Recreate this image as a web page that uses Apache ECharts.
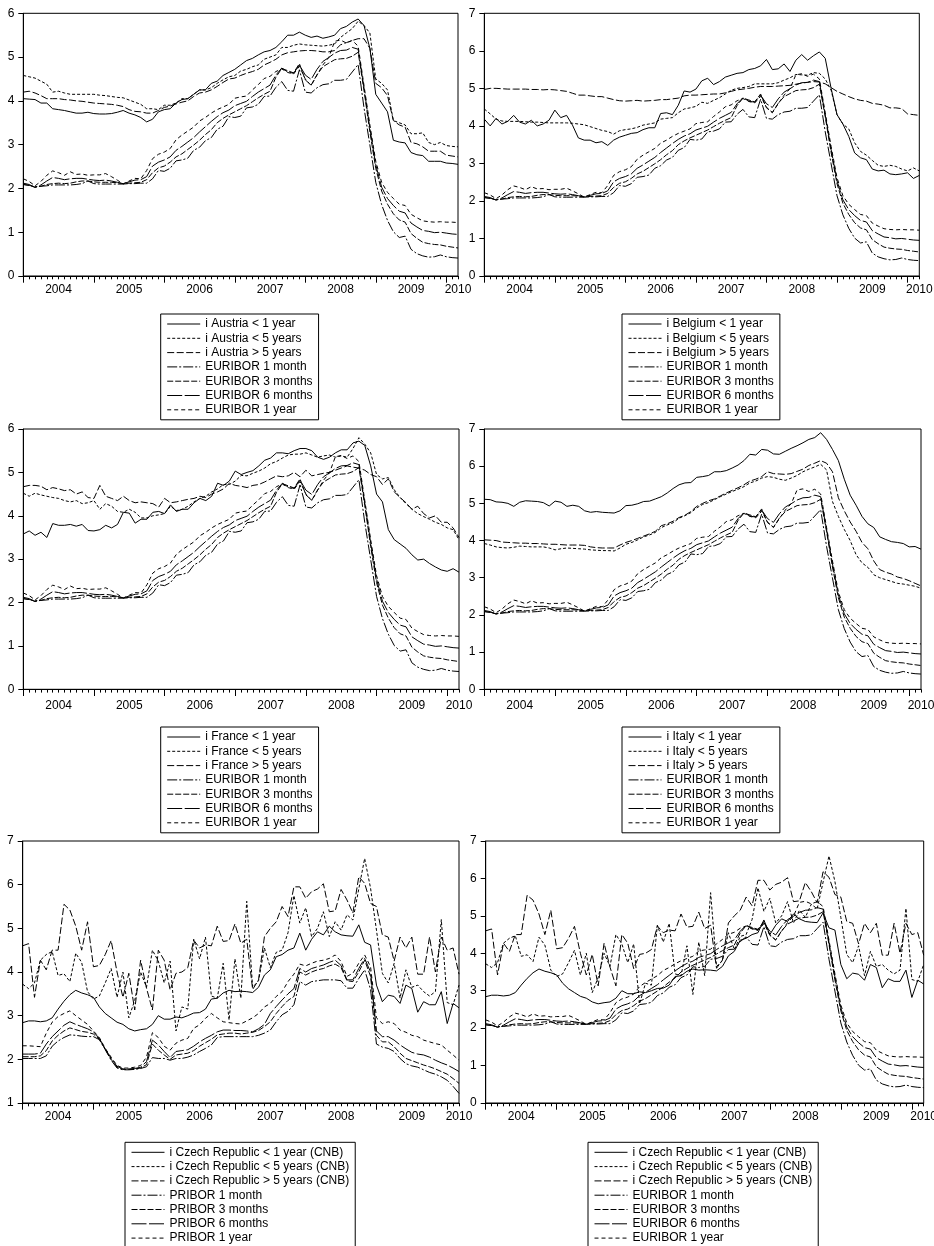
<!DOCTYPE html>
<html><head><meta charset="utf-8">
<script src="https://cdn.jsdelivr.net/npm/echarts@6/dist/echarts.min.js"></script>
<style>html,body{margin:0;padding:0;background:#fff}#c{width:934px;height:1246px}</style>
</head><body><div id="c"></div>
<script>
// ---------- categories ----------
const years = ['2004','2005','2006','2007','2008','2009','2010'];
const months = [];
years.forEach(function (y, k) { var n = (k === 6) ? 3 : 12; for (var m = 1; m <= n; m++) months.push(y + '-' + (m < 10 ? '0' : '') + m); });

// ---------- EURIBOR ----------
const euribor1m = [2.09,2.07,2.04,2.05,2.06,2.08,2.08,2.08,2.08,2.09,2.11,2.17,
 2.11,2.10,2.10,2.10,2.10,2.10,2.11,2.11,2.12,2.12,2.22,2.41,
 2.39,2.46,2.63,2.65,2.69,2.87,2.94,3.09,3.16,3.35,3.42,3.64,
 3.62,3.65,3.84,3.86,3.92,4.10,4.11,4.31,4.44,4.24,4.22,4.71,
 4.20,4.18,4.30,4.37,4.39,4.47,4.47,4.49,4.66,4.83,3.84,2.99,
 2.14,1.63,1.27,1.01,0.88,0.91,0.61,0.51,0.46,0.43,0.44,0.48,
 0.44,0.42,0.41];
const euribor3m = [2.09,2.07,2.03,2.05,2.09,2.11,2.12,2.11,2.12,2.15,2.17,2.17,
 2.15,2.14,2.14,2.14,2.13,2.11,2.12,2.13,2.14,2.20,2.36,2.47,
 2.51,2.60,2.72,2.79,2.89,2.99,3.10,3.23,3.34,3.50,3.60,3.68,
 3.75,3.82,3.89,3.98,4.07,4.15,4.22,4.54,4.74,4.69,4.64,4.85,
 4.48,4.36,4.60,4.78,4.86,4.94,4.96,4.97,5.02,5.11,4.24,3.29,
 2.46,1.94,1.64,1.42,1.28,1.23,0.97,0.86,0.77,0.74,0.72,0.71,
 0.68,0.66,0.64];
const euribor6m = [2.12,2.09,2.02,2.08,2.17,2.25,2.23,2.20,2.22,2.23,2.23,2.21,
 2.19,2.18,2.19,2.17,2.14,2.11,2.15,2.19,2.20,2.27,2.51,2.60,
 2.65,2.72,2.87,2.96,3.06,3.16,3.29,3.41,3.53,3.64,3.73,3.79,
 3.89,3.94,3.99,4.10,4.20,4.28,4.36,4.59,4.75,4.66,4.63,4.82,
 4.59,4.49,4.72,4.90,4.99,5.09,5.15,5.16,5.22,5.18,4.29,3.37,
 2.54,2.03,1.77,1.61,1.48,1.44,1.21,1.12,1.04,1.02,0.99,1.00,
 0.98,0.96,0.95];
const euribor1y = [2.22,2.16,2.06,2.16,2.30,2.40,2.36,2.30,2.38,2.32,2.33,2.30,
 2.31,2.31,2.34,2.27,2.19,2.10,2.17,2.23,2.22,2.41,2.68,2.78,
 2.83,2.91,3.11,3.22,3.31,3.40,3.54,3.62,3.72,3.80,3.86,3.92,
 4.06,4.09,4.11,4.25,4.37,4.51,4.56,4.67,4.73,4.65,4.61,4.79,
 4.50,4.35,4.59,4.82,4.99,5.36,5.39,5.32,5.38,5.25,4.35,3.45,
 2.62,2.14,1.91,1.77,1.64,1.61,1.41,1.33,1.26,1.24,1.23,1.24,
 1.23,1.23,1.22];

// ---------- Austria ----------
const austriaLt1 = [4.05,4.04,4.03,3.95,3.95,3.82,3.80,3.78,3.75,3.72,3.72,3.74,
 3.71,3.70,3.70,3.71,3.74,3.78,3.72,3.68,3.62,3.52,3.58,3.75,
 3.80,3.82,3.95,4.03,4.05,4.15,4.25,4.25,4.40,4.45,4.58,4.65,
 4.72,4.82,4.92,4.97,5.05,5.12,5.15,5.22,5.35,5.50,5.50,5.57,
 5.50,5.45,5.48,5.43,5.46,5.50,5.65,5.70,5.80,5.87,5.72,5.20,
 4.15,3.95,3.75,3.10,3.06,3.04,2.82,2.77,2.75,2.62,2.62,2.62,
 2.58,2.57,2.55];
const austriaLt5 = [4.58,4.55,4.52,4.45,4.38,4.20,4.22,4.18,4.15,4.15,4.15,4.15,
 4.15,4.13,4.12,4.10,4.08,4.07,4.02,3.97,3.92,3.82,3.82,3.80,
 3.90,3.90,3.95,4.05,4.05,4.15,4.25,4.25,4.30,4.40,4.48,4.55,
 4.58,4.68,4.72,4.78,4.82,4.95,5.00,5.05,5.22,5.22,5.27,5.30,
 5.28,5.27,5.26,5.25,5.27,5.30,5.45,5.55,5.65,5.82,5.72,5.55,
 4.50,4.40,4.25,3.55,3.50,3.45,3.25,3.25,3.27,3.05,3.00,3.05,
 2.98,2.96,2.95];
const austriaGt5 = [4.20,4.22,4.18,4.12,4.05,4.05,4.05,4.03,4.02,4.00,3.99,3.97,
 3.95,3.94,3.93,3.92,3.90,3.87,3.80,3.76,3.75,3.72,3.72,3.78,
 3.85,3.88,3.93,3.97,4.00,4.10,4.18,4.20,4.25,4.33,4.42,4.50,
 4.52,4.58,4.63,4.67,4.72,4.82,4.88,4.95,5.05,5.10,5.12,5.14,
 5.15,5.15,5.14,5.12,5.12,5.15,5.28,5.33,5.38,5.42,5.42,5.20,
 4.40,4.30,4.12,3.55,3.45,3.40,3.05,3.02,2.95,2.85,2.85,2.85,
 2.76,2.74,2.72];

// ---------- Belgium ----------
const belgiumLt1 = [4.18,4.00,4.20,4.05,4.12,4.28,4.10,4.05,4.15,4.00,4.05,4.15,
 4.42,4.22,4.28,4.02,3.68,3.62,3.62,3.55,3.58,3.48,3.62,3.70,
 3.75,3.80,3.82,3.90,3.95,3.95,4.33,4.35,4.30,4.55,4.93,4.90,
 4.98,5.20,5.27,5.10,5.18,5.30,5.35,5.40,5.42,5.50,5.53,5.60,
 5.77,5.50,5.52,5.65,5.45,5.75,5.90,5.75,5.87,5.97,5.80,5.00,
 4.30,4.05,3.72,3.28,3.15,3.10,2.85,2.80,2.82,2.72,2.70,2.72,
 2.75,2.60,2.68];
const belgiumLt5 = [4.45,4.32,4.18,4.13,4.12,4.12,4.12,4.11,4.10,4.10,4.09,4.08,
 4.08,4.08,4.08,4.07,4.05,4.03,3.98,3.93,3.88,3.85,3.78,3.87,
 3.90,3.92,3.96,4.02,4.05,4.08,4.18,4.20,4.22,4.35,4.45,4.48,
 4.52,4.63,4.60,4.68,4.75,4.85,4.95,5.00,5.02,5.05,5.12,5.12,
 5.12,5.12,5.15,5.22,5.28,5.37,5.36,5.35,5.42,5.40,5.25,4.95,
 4.30,4.05,3.92,3.55,3.32,3.22,3.08,2.95,2.92,2.95,2.92,2.85,
 2.80,2.88,2.80];
const belgiumGt5 = [4.97,5.00,5.00,4.99,4.98,4.98,4.98,4.98,4.97,4.97,4.96,4.97,
 4.96,4.94,4.92,4.87,4.82,4.82,4.80,4.78,4.78,4.74,4.70,4.67,
 4.66,4.67,4.68,4.66,4.67,4.68,4.70,4.70,4.72,4.74,4.80,4.82,
 4.82,4.83,4.84,4.85,4.85,4.88,4.92,4.96,4.98,5.00,5.03,5.05,
 5.05,5.05,5.06,5.07,5.08,5.11,5.14,5.16,5.18,5.17,5.12,5.02,
 4.92,4.85,4.78,4.72,4.68,4.66,4.60,4.58,4.55,4.48,4.48,4.46,
 4.32,4.30,4.28];

// ---------- France ----------
const franceLt1 = [3.58,3.65,3.55,3.62,3.50,3.82,3.78,3.78,3.80,3.76,3.80,3.66,
 3.65,3.68,3.78,3.72,3.80,4.08,4.06,3.83,3.92,3.92,4.08,4.10,
 4.05,4.25,4.10,4.15,4.15,4.30,4.40,4.35,4.45,4.75,4.70,4.80,
 5.03,4.95,5.00,5.04,5.15,5.28,5.33,5.45,5.45,5.43,5.50,5.55,
 5.55,5.50,5.35,5.30,5.35,5.45,5.52,5.52,5.68,5.72,5.62,5.15,
 4.50,4.32,3.68,3.45,3.35,3.25,3.10,2.98,3.00,2.90,2.82,2.75,
 2.72,2.78,2.70];
const franceLt5 = [4.52,4.45,4.52,4.48,4.45,4.42,4.40,4.35,4.32,4.35,4.28,4.30,
 4.35,4.15,4.28,4.22,4.10,4.08,4.15,4.08,3.95,3.95,4.00,4.02,
 4.05,4.22,4.12,4.15,4.22,4.32,4.40,4.45,4.55,4.62,4.72,4.72,
 4.80,4.93,4.92,4.98,5.03,5.10,5.20,5.25,5.33,5.40,5.42,5.42,
 5.45,5.40,5.35,5.38,5.40,5.35,5.38,5.35,5.55,5.80,5.65,5.45,
 4.95,4.85,4.88,4.60,4.42,4.28,4.15,4.05,3.98,3.92,3.85,3.80,
 3.72,3.68,3.45];
const franceGt5 = [4.67,4.70,4.70,4.68,4.60,4.65,4.62,4.58,4.60,4.50,4.55,4.42,
 4.40,4.70,4.45,4.40,4.35,4.45,4.35,4.30,4.32,4.30,4.28,4.20,
 4.40,4.30,4.32,4.35,4.38,4.40,4.45,4.42,4.50,4.55,4.62,4.75,
 4.70,4.68,4.65,4.70,4.72,4.78,4.85,4.92,4.90,4.92,5.00,4.90,
 5.05,4.92,4.95,4.98,5.00,5.05,5.10,5.15,5.12,5.10,5.05,4.95,
 4.90,4.72,4.85,4.55,4.42,4.30,4.15,4.22,4.05,3.95,4.00,3.85,
 3.85,3.72,3.50];

// ---------- Italy ----------
const italyLt1 = [5.11,5.10,5.04,5.03,5.00,4.92,5.03,5.07,5.06,5.05,5.02,4.93,
 5.06,5.03,4.92,4.95,4.92,4.80,4.76,4.78,4.76,4.75,4.74,4.80,
 4.94,4.95,4.99,5.05,5.06,5.12,5.18,5.28,5.40,5.50,5.55,5.56,
 5.70,5.72,5.75,5.85,5.85,5.88,5.95,6.03,6.15,6.32,6.30,6.45,
 6.43,6.33,6.32,6.40,6.48,6.55,6.63,6.72,6.77,6.90,6.72,6.45,
 6.15,5.65,5.22,4.95,4.65,4.45,4.35,4.10,4.03,3.97,3.95,3.92,
 3.83,3.84,3.77];
const italyLt5 = [3.92,3.88,3.83,3.81,3.80,3.82,3.85,3.84,3.83,3.83,3.83,3.80,
 3.75,3.78,3.80,3.79,3.78,3.77,3.75,3.74,3.73,3.73,3.72,3.80,
 3.90,3.95,4.02,4.10,4.15,4.22,4.35,4.42,4.48,4.60,4.67,4.75,
 4.88,4.97,5.02,5.10,5.18,5.25,5.32,5.38,5.45,5.55,5.60,5.68,
 5.72,5.70,5.65,5.62,5.68,5.75,5.85,5.92,5.98,6.05,5.90,5.05,
 4.65,4.30,4.00,3.62,3.40,3.28,3.08,3.00,2.95,2.90,2.85,2.83,
 2.80,2.77,2.72];
const italyGt5 = [4.02,4.01,4.00,3.96,3.95,3.94,3.93,3.93,3.92,3.92,3.91,3.90,
 3.90,3.89,3.88,3.88,3.88,3.87,3.83,3.81,3.80,3.80,3.80,3.88,
 3.95,4.00,4.06,4.12,4.18,4.25,4.40,4.45,4.52,4.62,4.68,4.78,
 4.92,5.00,5.07,5.12,5.20,5.28,5.35,5.42,5.50,5.60,5.65,5.72,
 5.85,5.80,5.79,5.78,5.80,5.86,5.92,6.02,6.08,6.15,6.08,5.85,
 5.15,4.80,4.50,4.25,3.95,3.78,3.45,3.22,3.15,3.10,3.02,2.98,
 2.92,2.85,2.78];

// ---------- Czech Republic (CNB) ----------
const czechLt1 = [2.84,2.88,2.88,2.86,2.88,2.95,3.15,3.33,3.48,3.58,3.52,3.48,
 3.42,3.20,3.05,2.95,2.85,2.80,2.70,2.65,2.68,2.70,2.80,3.00,
 2.92,2.92,2.97,2.95,3.00,3.06,3.07,3.15,3.38,3.40,3.52,3.58,
 3.55,3.56,3.55,3.53,3.65,3.93,4.05,4.35,4.40,4.50,4.55,4.89,
 4.50,4.75,4.92,4.85,5.05,4.92,4.85,4.83,4.82,5.08,4.68,4.62,
 3.70,3.32,3.47,3.44,3.28,3.70,3.62,3.08,3.32,3.25,3.25,3.55,
 2.82,3.28,3.18];
const czechLt5 = [3.72,3.62,3.75,4.27,4.40,4.47,3.92,3.96,3.78,4.43,4.22,3.55,
 3.38,3.45,3.75,4.08,3.42,4.00,2.95,3.35,4.00,3.65,4.50,4.25,
 3.75,4.25,2.65,3.20,3.15,4.75,4.30,4.80,3.45,3.40,4.20,2.90,
 4.30,3.40,5.62,3.65,3.80,4.55,4.10,4.45,4.50,4.90,5.75,5.12,
 5.47,4.81,5.00,5.38,4.81,5.15,4.96,5.31,5.19,5.90,6.60,5.92,
 4.96,3.97,3.75,4.20,3.40,4.05,3.65,3.70,3.55,3.45,3.55,5.20,
 3.30,3.25,3.70];
const czechGt5 = [4.60,4.65,3.42,4.27,4.05,4.50,4.50,5.55,5.42,5.05,4.50,5.15,
 4.12,4.15,4.40,4.72,4.00,3.42,3.97,3.13,4.27,3.63,3.13,4.50,
 4.27,3.59,3.97,4.00,4.10,4.73,4.55,4.62,4.60,5.05,4.70,4.72,
 5.10,4.66,4.75,3.60,3.82,4.81,5.00,5.15,5.50,5.27,5.95,5.95,
 5.69,5.84,5.90,6.02,5.38,5.40,5.89,5.65,5.35,6.18,6.03,5.57,
 5.50,4.85,4.80,4.25,4.80,4.55,4.80,3.95,3.95,4.80,4.00,4.80,
 4.50,4.55,3.95];

// ---------- PRIBOR ----------
const pribor1m = [2.02,2.02,2.02,2.02,2.08,2.30,2.42,2.50,2.56,2.55,2.53,2.52,
 2.52,2.45,2.22,1.98,1.80,1.76,1.76,1.77,1.79,1.83,2.04,2.02,
 2.02,1.98,2.02,2.02,2.05,2.10,2.18,2.25,2.33,2.50,2.52,2.52,
 2.52,2.52,2.52,2.52,2.55,2.60,2.67,2.86,3.02,3.10,3.25,3.78,
 3.70,3.78,3.80,3.82,3.82,3.82,3.80,3.63,3.63,3.85,4.05,3.60,
 2.35,2.28,2.25,2.18,2.02,1.90,1.85,1.82,1.76,1.70,1.66,1.60,
 1.52,1.38,1.22];
const pribor3m = [2.06,2.06,2.06,2.08,2.20,2.42,2.55,2.65,2.72,2.68,2.64,2.62,
 2.58,2.46,2.23,2.00,1.82,1.77,1.77,1.78,1.80,1.88,2.35,2.21,
 2.10,2.00,2.10,2.12,2.14,2.20,2.30,2.38,2.46,2.56,2.58,2.60,
 2.60,2.58,2.60,2.62,2.66,2.75,2.86,3.05,3.21,3.35,3.44,4.00,
 3.93,4.00,4.05,4.08,4.14,4.18,4.10,3.80,3.78,4.00,4.27,3.90,
 2.55,2.40,2.40,2.29,2.14,2.02,1.97,1.92,1.87,1.83,1.78,1.72,
 1.66,1.56,1.45];
const pribor6m = [2.12,2.12,2.12,2.14,2.35,2.52,2.65,2.78,2.86,2.80,2.75,2.70,
 2.63,2.48,2.24,2.02,1.84,1.78,1.78,1.79,1.82,1.95,2.44,2.33,
 2.18,2.04,2.18,2.20,2.22,2.30,2.40,2.48,2.55,2.63,2.67,2.67,
 2.66,2.66,2.65,2.63,2.70,2.80,3.05,3.21,3.36,3.50,3.62,4.08,
 4.00,4.08,4.12,4.16,4.22,4.27,4.15,3.82,3.82,4.08,4.31,4.00,
 2.65,2.52,2.52,2.44,2.33,2.24,2.16,2.12,2.10,2.05,1.98,1.92,
 1.87,1.80,1.72];
const pribor1y = [2.31,2.31,2.30,2.29,2.60,2.85,2.98,3.05,3.11,3.00,2.90,2.80,
 2.65,2.50,2.25,2.05,1.86,1.80,1.80,1.82,1.86,2.05,2.61,2.50,
 2.30,2.21,2.37,2.44,2.48,2.71,2.79,2.94,3.05,2.95,2.86,2.84,
 2.82,2.81,2.88,2.95,3.05,3.20,3.28,3.44,3.55,3.78,3.95,4.18,
 4.14,4.20,4.25,4.27,4.31,4.39,4.24,3.90,3.97,4.20,4.39,4.12,
 2.95,2.82,2.86,2.82,2.67,2.62,2.55,2.52,2.44,2.40,2.36,2.33,
 2.21,2.10,1.98];

// ---------- styles / layout ----------
const FONT = 'Liberation Sans, Arial, Helvetica, sans-serif';
const dashes = { lt1: 'solid', lt5: [3, 2], gt5: [7, 2.5], m1: [10, 2, 2, 2], m3: [6, 2], m6: [15, 2.5], y1: [4, 3] };

const euriborSet = [['EURIBOR 1 month', euribor1m, 'm1'], ['EURIBOR 3 months', euribor3m, 'm3'], ['EURIBOR 6 months', euribor6m, 'm6'], ['EURIBOR 1 year', euribor1y, 'y1']];
const priborSet = [['PRIBOR 1 month', pribor1m, 'm1'], ['PRIBOR 3 months', pribor3m, 'm3'], ['PRIBOR 6 months', pribor6m, 'm6'], ['PRIBOR 1 year', pribor1y, 'y1']];
const czechSet = [['i Czech Republic < 1 year (CNB)', czechLt1, 'lt1'], ['i Czech Republic < 5 years (CNB)', czechLt5, 'lt5'], ['i Czech Republic > 5 years (CNB)', czechGt5, 'gt5']];

const panels = [
  { grid: { left: 23.3, top: 13.3, width: 434.7, height: 262.7 }, ymin: 0, ymax: 6, lm: 8, legend: { left: 160.7, top: 314 },
    lines: [['i Austria < 1 year', austriaLt1, 'lt1'], ['i Austria < 5 years', austriaLt5, 'lt5'], ['i Austria > 5 years', austriaGt5, 'gt5']].concat(euriborSet) },
  { grid: { left: 484.3, top: 13.3, width: 435, height: 262.7 }, ymin: 0, ymax: 7, lm: 8, legend: { left: 622, top: 314 },
    lines: [['i Belgium < 1 year', belgiumLt1, 'lt1'], ['i Belgium < 5 years', belgiumLt5, 'lt5'], ['i Belgium > 5 years', belgiumGt5, 'gt5']].concat(euriborSet) },
  { grid: { left: 23.3, top: 429, width: 435.7, height: 260.3 }, ymin: 0, ymax: 6, lm: 10, legend: { left: 160.7, top: 727 },
    lines: [['i France < 1 year', franceLt1, 'lt1'], ['i France < 5 years', franceLt5, 'lt5'], ['i France > 5 years', franceGt5, 'gt5']].concat(euriborSet) },
  { grid: { left: 484.3, top: 429, width: 436.7, height: 260.3 }, ymin: 0, ymax: 7, lm: 10, legend: { left: 622, top: 727 },
    lines: [['i Italy < 1 year', italyLt1, 'lt1'], ['i Italy < 5 years', italyLt5, 'lt5'], ['i Italy > 5 years', italyGt5, 'gt5']].concat(euriborSet) },
  { grid: { left: 22.7, top: 841, width: 436.3, height: 262 }, ymin: 1, ymax: 7, lm: 8, legend: { left: 125, top: 1142.3 },
    lines: czechSet.concat(priborSet) },
  { grid: { left: 485.7, top: 841, width: 438, height: 262 }, ymin: 0, ymax: 7, lm: 8, legend: { left: 588, top: 1142.3 },
    lines: czechSet.concat(euriborSet) }
];

const option = { animation: false, backgroundColor: '#fff', grid: [], xAxis: [], yAxis: [], legend: [], series: [] };
const lastIdx = months.length - 1;

panels.forEach(function (p, i) {
  option.grid.push(Object.assign({ show: true, borderColor: '#000', borderWidth: 1, backgroundColor: 'transparent', containLabel: false, outerBoundsMode: 'none' }, p.grid));
  option.xAxis.push({
    type: 'category', gridIndex: i, data: months, boundaryGap: false, position: 'bottom',
    axisLine: { onZero: false, lineStyle: { color: '#000', width: 1 } },
    axisTick: { show: true, interval: 0, length: 3.3, lineStyle: { color: '#000', width: 1 } },
    axisLabel: { interval: function (idx) { return months[idx].slice(5) === '07' || idx === lastIdx; },
                 formatter: function (v) { return v.slice(0, 4); }, color: '#000', fontSize: 12, fontFamily: FONT, margin: p.lm },
    splitLine: { show: false }
  });
  option.xAxis.push({
    type: 'category', gridIndex: i, data: months, boundaryGap: false, position: 'bottom',
    axisLine: { show: false, onZero: false },
    axisTick: { show: true, interval: function (idx) { return months[idx].slice(5) === '01'; }, length: 6.7, lineStyle: { color: '#000', width: 1 } },
    axisLabel: { show: false }, splitLine: { show: false }
  });
  option.yAxis.push({
    type: 'value', gridIndex: i, min: p.ymin, max: p.ymax, interval: 1,
    axisLine: { show: true, lineStyle: { color: '#000', width: 1 } },
    axisTick: { show: true, length: 5, lineStyle: { color: '#000', width: 1 } },
    axisLabel: { color: '#000', fontSize: 12, fontFamily: FONT, margin: 9 },
    splitLine: { show: false }
  });
  option.legend.push({
    orient: 'vertical', left: p.legend.left, top: p.legend.top, height: 400,
    itemWidth: 33, itemHeight: 12, itemGap: 2.3, padding: [4, 6, 4, 6],
    borderColor: '#000', borderWidth: 1, backgroundColor: '#fff',
    selectedMode: false, itemStyle: { opacity: 0 }, lineStyle: { width: 1, color: '#000' },
    textStyle: { color: '#000', fontSize: 12, fontFamily: FONT },
    data: p.lines.map(function (l) { return l[0]; })
  });
  p.lines.forEach(function (l) {
    option.series.push({
      type: 'line', name: l[0], data: l[1], xAxisIndex: 2 * i, yAxisIndex: i,
      symbol: 'none', showSymbol: false, silent: true, emphasis: { disabled: true },
      lineStyle: { color: '#000', width: 1, type: dashes[l[2]] }, itemStyle: { color: '#000' }
    });
  });
});

const chart = echarts.init(document.getElementById('c'), null, { renderer: 'canvas' });
chart.setOption(option);
</script>
</body></html>
